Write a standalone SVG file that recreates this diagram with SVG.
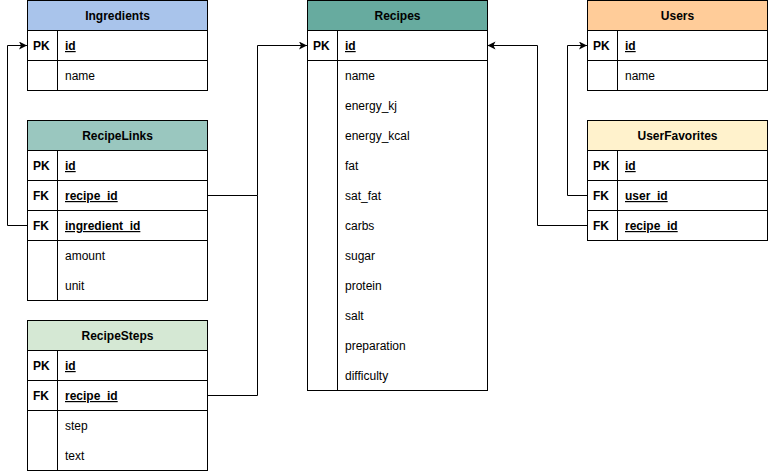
<svg xmlns="http://www.w3.org/2000/svg" width="768" height="471" viewBox="0 0 768 471">
<style>
.box{fill:#ffffff;stroke:#000000;stroke-width:1}
.ln{stroke:#000000;stroke-width:1;fill:none}
.hd{font-family:"Liberation Sans",Arial,sans-serif;font-size:12px;font-weight:bold;fill:#000000;text-anchor:middle}
.k{font-family:"Liberation Sans",Arial,sans-serif;font-size:12px;font-weight:bold;fill:#000000}
.f{font-family:"Liberation Sans",Arial,sans-serif;font-size:12px;fill:#000000}
.u{text-decoration:underline;font-weight:bold}
.con{stroke:#000000;stroke-width:1;fill:none}
</style>
<defs>
<marker id="arr" markerWidth="10" markerHeight="10" refX="8" refY="4" orient="auto" markerUnits="userSpaceOnUse">
<path d="M0,0 L8,4 L0,8 L2,4 Z" fill="#000000"/>
</marker>
</defs>
<rect width="768" height="471" fill="#ffffff"/>

<g id="connectors">
<path class="con" d="M27,225.5 H7.5 V45.5 H27" marker-end="url(#arr)"/>
<path class="con" d="M207,195.5 H257.5 V45.5 H307" marker-end="url(#arr)"/>
<path class="con" d="M207,395.5 H257.5 V195.5"/>
<path class="con" d="M587,195.5 H567.5 V45.5 H587" marker-end="url(#arr)"/>
<path class="con" d="M587,225.5 H537.5 V45.5 H487.5" marker-end="url(#arr)"/>
</g>

<g id="Ingredients">
<rect class="box" x="27.5" y="0.5" width="180" height="90"/>
<rect x="27.5" y="0.5" width="180" height="30" fill="#A9C4EB" stroke="#000000"/>
<path class="ln" d="M27.5,60.5 H207.5 M57.5,30.5 V90.5"/>
<text class="hd" x="117.5" y="20">Ingredients</text>
<text class="k" x="33" y="50">PK</text>
<text class="f u" x="65" y="50">id</text>
<text class="f" x="65" y="80">name</text>
</g>

<g id="RecipeLinks">
<rect class="box" x="27.5" y="120.5" width="180" height="180"/>
<rect x="27.5" y="120.5" width="180" height="30" fill="#9AC7BF" stroke="#000000"/>
<path class="ln" d="M27.5,180.5 H207.5 M27.5,210.5 H207.5 M27.5,240.5 H207.5 M57.5,150.5 V300.5"/>
<text class="hd" x="117.5" y="140">RecipeLinks</text>
<text class="k" x="33" y="170">PK</text>
<text class="f u" x="65" y="170">id</text>
<text class="k" x="33" y="200">FK</text>
<text class="f u" x="65" y="200">recipe_id</text>
<text class="k" x="33" y="230">FK</text>
<text class="f u" x="65" y="230">ingredient_id</text>
<text class="f" x="65" y="260">amount</text>
<text class="f" x="65" y="290">unit</text>
</g>

<g id="RecipeSteps">
<rect class="box" x="27.5" y="320.5" width="180" height="150"/>
<rect x="27.5" y="320.5" width="180" height="30" fill="#D5E8D4" stroke="#000000"/>
<path class="ln" d="M27.5,380.5 H207.5 M27.5,410.5 H207.5 M57.5,350.5 V470.5"/>
<text class="hd" x="117.5" y="340">RecipeSteps</text>
<text class="k" x="33" y="370">PK</text>
<text class="f u" x="65" y="370">id</text>
<text class="k" x="33" y="400">FK</text>
<text class="f u" x="65" y="400">recipe_id</text>
<text class="f" x="65" y="430">step</text>
<text class="f" x="65" y="460">text</text>
</g>

<g id="Recipes">
<rect class="box" x="307.5" y="0.5" width="180" height="390"/>
<rect x="307.5" y="0.5" width="180" height="30" fill="#67AB9F" stroke="#000000"/>
<path class="ln" d="M307.5,60.5 H487.5 M337.5,30.5 V390.5"/>
<text class="hd" x="397.5" y="20">Recipes</text>
<text class="k" x="313" y="50">PK</text>
<text class="f u" x="345" y="50">id</text>
<text class="f" x="345" y="80">name</text>
<text class="f" x="345" y="110">energy_kj</text>
<text class="f" x="345" y="140">energy_kcal</text>
<text class="f" x="345" y="170">fat</text>
<text class="f" x="345" y="200">sat_fat</text>
<text class="f" x="345" y="230">carbs</text>
<text class="f" x="345" y="260">sugar</text>
<text class="f" x="345" y="290">protein</text>
<text class="f" x="345" y="320">salt</text>
<text class="f" x="345" y="350">preparation</text>
<text class="f" x="345" y="380">difficulty</text>
</g>

<g id="Users">
<rect class="box" x="587.5" y="0.5" width="180" height="90"/>
<rect x="587.5" y="0.5" width="180" height="30" fill="#FFCC99" stroke="#000000"/>
<path class="ln" d="M587.5,60.5 H767.5 M617.5,30.5 V90.5"/>
<text class="hd" x="677.5" y="20">Users</text>
<text class="k" x="593" y="50">PK</text>
<text class="f u" x="625" y="50">id</text>
<text class="f" x="625" y="80">name</text>
</g>

<g id="UserFavorites">
<rect class="box" x="587.5" y="120.5" width="180" height="120"/>
<rect x="587.5" y="120.5" width="180" height="30" fill="#FFF2CC" stroke="#000000"/>
<path class="ln" d="M587.5,180.5 H767.5 M587.5,210.5 H767.5 M617.5,150.5 V240.5"/>
<text class="hd" x="677.5" y="140">UserFavorites</text>
<text class="k" x="593" y="170">PK</text>
<text class="f u" x="625" y="170">id</text>
<text class="k" x="593" y="200">FK</text>
<text class="f u" x="625" y="200">user_id</text>
<text class="k" x="593" y="230">FK</text>
<text class="f u" x="625" y="230">recipe_id</text>
</g>
</svg>
